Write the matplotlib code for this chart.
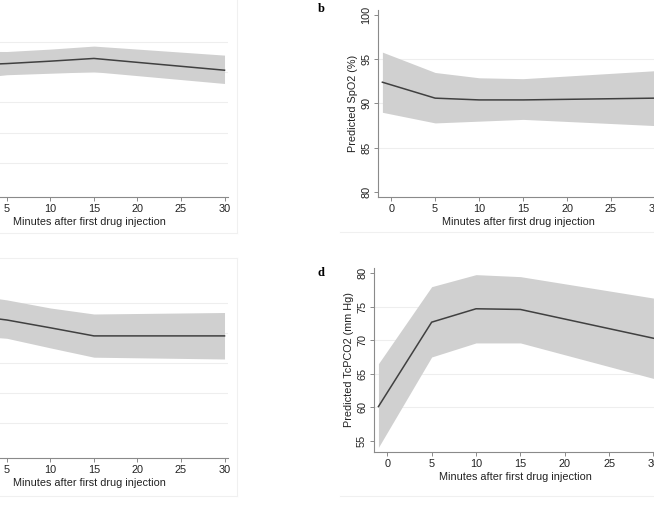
import matplotlib
matplotlib.use("Agg")
import matplotlib.pyplot as plt
from matplotlib.lines import Line2D

plt.rcParams['font.family'] = ['Liberation Sans', 'DejaVu Sans']

# minutes after first drug injection (baseline plotted at -1)
minutes = [-1, 5, 10, 15, 30]
xticks = [0, 5, 10, 15, 20, 25, 30]

# panel a (axis labels cut off in the source)
a_mean = [82.2, 82.9, 83.7, 84.6, 80.7]
a_upper = [87.0, 86.9, 87.7, 88.7, 85.7]
a_lower = [77.4, 79.2, 79.7, 80.2, 76.3]
a_ticks = [40, 50, 60, 70, 80, 90, 100]

# panel b: SpO2
b_mean = [92.4, 90.6, 90.4, 90.4, 90.6]
b_upper = [95.8, 93.5, 92.9, 92.8, 93.7]
b_lower = [89.0, 87.8, 88.0, 88.2, 87.5]
b_ticks = [80, 85, 90, 95, 100]

# panel c (axis labels cut off in the source)
c_mean = [46.5, 44.3, 41.7, 39.0, 39.0]
c_upper = [53.5, 51.0, 48.3, 46.3, 46.8]
c_lower = [39.5, 38.2, 35.0, 31.9, 31.3]
c_ticks = [0, 10, 20, 30, 40, 50, 60]

# panel d: TcPCO2
d_mean = [60.1, 72.7, 74.7, 74.6, 70.3]
d_upper = [66.5, 78.0, 79.8, 79.5, 76.3]
d_lower = [54.0, 67.5, 69.6, 69.6, 64.3]
d_ticks = [55, 60, 65, 70, 75, 80]

W, H = 654, 505
fig = plt.figure(figsize=(W / 100, H / 100), dpi=100)


def px_axes(x0, x1, top, bottom):
    return fig.add_axes([x0 / W, 1 - bottom / H, (x1 - x0) / W, (bottom - top) / H])


def panel(ax, mean, upper, lower, yticks, ylim, ylabel=None, cut=False):
    ax.fill_between(minutes, lower, upper, color='#d0d0d0', lw=0, zorder=2)
    ax.plot(minutes, mean, color='#404040', lw=1.1, zorder=3)
    ax.set_xlim(-1.5, 30.4)
    ax.set_ylim(*ylim)
    ax.set_xticks(xticks)
    ax.set_yticks(yticks)
    if cut:
        # left part of these panels lies outside the cropped picture
        ax.set_yticklabels([])
        ax.set_xticklabels([''] + [str(t) for t in xticks[1:]])
    for t in yticks[1:-1]:
        ax.axhline(t, color='#eeeeee', lw=0.8, zorder=1)
    for s in ['top', 'right']:
        ax.spines[s].set_visible(False)
    for s in ['left', 'bottom']:
        ax.spines[s].set_color('#8a8a8a')
        ax.spines[s].set_linewidth(0.8)
    ax.tick_params(length=3, width=0.7, color='#8a8a8a', labelsize=7.8,
                   labelcolor='#222222', pad=2)
    for lab in ax.get_yticklabels():
        lab.set_rotation(90)
        lab.set_va('center')
    ax.set_xlabel('Minutes after first drug injection', fontsize=7.8,
                  color='#222222', labelpad=2)
    if ylabel:
        ax.set_ylabel(ylabel, fontsize=7.8, color='#222222', labelpad=2)


ax_a = px_axes(-49.7, 228, 10, 197)
panel(ax_a, a_mean, a_upper, a_lower, a_ticks, (38.67, 100.66), cut=True)

ax_b = px_axes(378, 658.5, 10, 197)
panel(ax_b, b_mean, b_upper, b_lower, b_ticks, (79.43, 100.56), 'Predicted SpO2 (%)')

ax_c = px_axes(-49.7, 228, 266, 458)
panel(ax_c, c_mean, c_upper, c_lower, c_ticks, (-1.7, 62.3), cut=True)

ax_d = px_axes(374, 657, 268, 452)
panel(ax_d, d_mean, d_upper, d_lower, d_ticks, (53.31, 80.79), 'Predicted TcPCO2 (mm Hg)')

# panel letters
fig.text(321 / W, 1 - 9 / H, 'b', family='Liberation Serif', weight='bold',
         fontsize=9, ha='center', va='center')
fig.text(321 / W, 1 - 273 / H, 'd', family='Liberation Serif', weight='bold',
         fontsize=9, ha='center', va='center')

# faint graph-region borders
for xs, ys in [([237, 237], [0, 233]), ([237, 237], [258, 496]),
               ([0, 237], [233, 233]), ([0, 237], [258, 258]),
               ([0, 237], [496, 496]), ([340, 654], [232, 232]),
               ([340, 654], [496, 496])]:
    fig.add_artist(Line2D([x / W for x in xs], [1 - y / H for y in ys],
                          color='#f0f0f0', lw=0.8))

fig.savefig('out.png', dpi=100)
